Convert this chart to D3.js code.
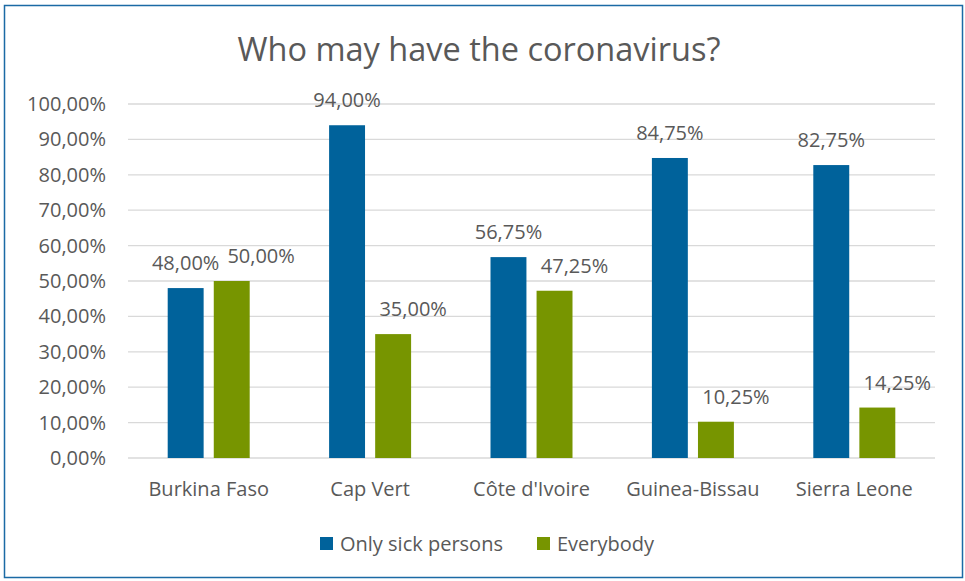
<!DOCTYPE html>
<html lang="en">
<head>
  <meta charset="UTF-8">
  <title>Who may have the coronavirus?</title>
  <style>
    body { margin: 0; background: #fff; }
    svg { display: block; font-family: "Open Sans", "Liberation Sans", sans-serif; }
  </style>
</head>
<body>
  <div id="chart"></div>
  <script src="https://cdn.jsdelivr.net/npm/d3@7"></script>
  <script>
    // data
    var countries = ['Burkina Faso', 'Cap Vert', "Côte d'Ivoire", 'Guinea-Bissau', 'Sierra Leone'];
    var sickOnly = [48.00, 94.00, 56.75, 84.75, 82.75];
    var everybody = [50.00, 35.00, 47.25, 10.25, 14.25];
    var seriesNames = ['Only sick persons', 'Everybody'];
    var yTicks = [0, 10, 20, 30, 40, 50, 60, 70, 80, 90, 100];

    var W = 965, H = 581;
    var colors = ['#00629b', '#779500'];
    var textColor = '#595959';
    var fs = 20;
    var fmt = function(v) { return v.toFixed(2).replace('.', ',') + '%'; };

    var svg = d3.select('#chart').append('svg')
      .attr('width', W).attr('height', H);

    // outer frame
    svg.append('rect')
      .attr('x', 4.5).attr('y', 5.5)
      .attr('width', 958).attr('height', 572)
      .attr('fill', '#fff')
      .attr('stroke', '#1b6aa5').attr('stroke-width', 1.5);

    svg.append('text')
      .attr('x', 479).attr('y', 61)
      .attr('text-anchor', 'middle')
      .attr('font-size', 32.5)
      .attr('fill', textColor)
      .text('Who may have the coronavirus?');

    var plotL = 128, plotR = 935, plotT = 104, plotB = 458;

    var y = d3.scaleLinear().domain([0, 100]).range([plotB, plotT]);
    var x0 = d3.scaleBand().domain(countries).range([plotL, plotR]).padding(0);
    var bw = x0.bandwidth();
    var x1 = d3.scaleBand().domain([0, 1])
      .range([(bw - 82) / 2, (bw + 82) / 2])
      .paddingInner(0.22);

    // grid
    svg.append('g').selectAll('line')
      .data(yTicks)
      .enter().append('line')
      .attr('x1', plotL).attr('x2', plotR)
      .attr('y1', function(d) { return y(d); })
      .attr('y2', function(d) { return y(d); })
      .attr('stroke', '#d9d9d9').attr('stroke-width', 1.3);

    // y axis
    var yAxis = svg.append('g')
      .attr('transform', 'translate(' + (plotL - 22) + ',0)')
      .call(d3.axisLeft(y).tickValues(yTicks).tickSize(0).tickPadding(0)
        .tickFormat(function(d) { return fmt(d); }));
    yAxis.select('.domain').remove();
    yAxis.selectAll('text').attr('font-size', fs).attr('fill', textColor)
      .attr('font-family', '"Open Sans", sans-serif');

    // x axis
    var xAxis = svg.append('g')
      .attr('transform', 'translate(0,' + (plotB + 16) + ')')
      .call(d3.axisBottom(x0).tickSize(0).tickPadding(8));
    xAxis.select('.domain').remove();
    xAxis.selectAll('text').attr('font-size', fs).attr('fill', textColor)
      .attr('font-family', '"Open Sans", sans-serif');

    var series = [sickOnly, everybody];
    var labelShift = [0, 20];
    var labels = [];

    series.forEach(function(vals, s) {
      var g = svg.append('g');
      g.selectAll('rect')
        .data(vals)
        .enter().append('rect')
        .attr('x', function(d, i) { return x0(countries[i]) + x1(s); })
        .attr('y', function(d) { return y(d); })
        .attr('width', x1.bandwidth())
        .attr('height', function(d) { return plotB - y(d); })
        .attr('fill', colors[s]);
      labels[s] = g.selectAll('text')
        .data(vals)
        .enter().append('text')
        .attr('x', function(d, i) { return x0(countries[i]) + x1(s) + x1.bandwidth() / 2 + labelShift[s]; })
        .attr('y', function(d) { return y(d) - 18; })
        .attr('text-anchor', 'middle')
        .attr('font-size', fs)
        .attr('fill', textColor)
        .text(function(d) { return fmt(d); });
    });

    // push the second label right when it runs into the first one
    var first = labels[0].nodes();
    labels[1].each(function(d, i) {
      var a = first[i].getBBox(), b = this.getBBox();
      var vOverlap = b.y < a.y + a.height && a.y < b.y + b.height;
      var gap = b.x - (a.x + a.width);
      if (vOverlap && gap < 8) {
        d3.select(this).attr('x', +d3.select(this).attr('x') + (8 - gap));
      }
    });

    // legend
    var legend = svg.append('g').attr('transform', 'translate(320,543)');
    var lx = [0, 217];
    seriesNames.forEach(function(name, s) {
      legend.append('rect')
        .attr('x', lx[s]).attr('y', -6)
        .attr('width', 13).attr('height', 13)
        .attr('fill', colors[s]);
      legend.append('text')
        .attr('x', lx[s] + 20).attr('y', 8)
        .attr('font-size', fs)
        .attr('fill', textColor)
        .text(name);
    });
  </script>
</body>
</html>
